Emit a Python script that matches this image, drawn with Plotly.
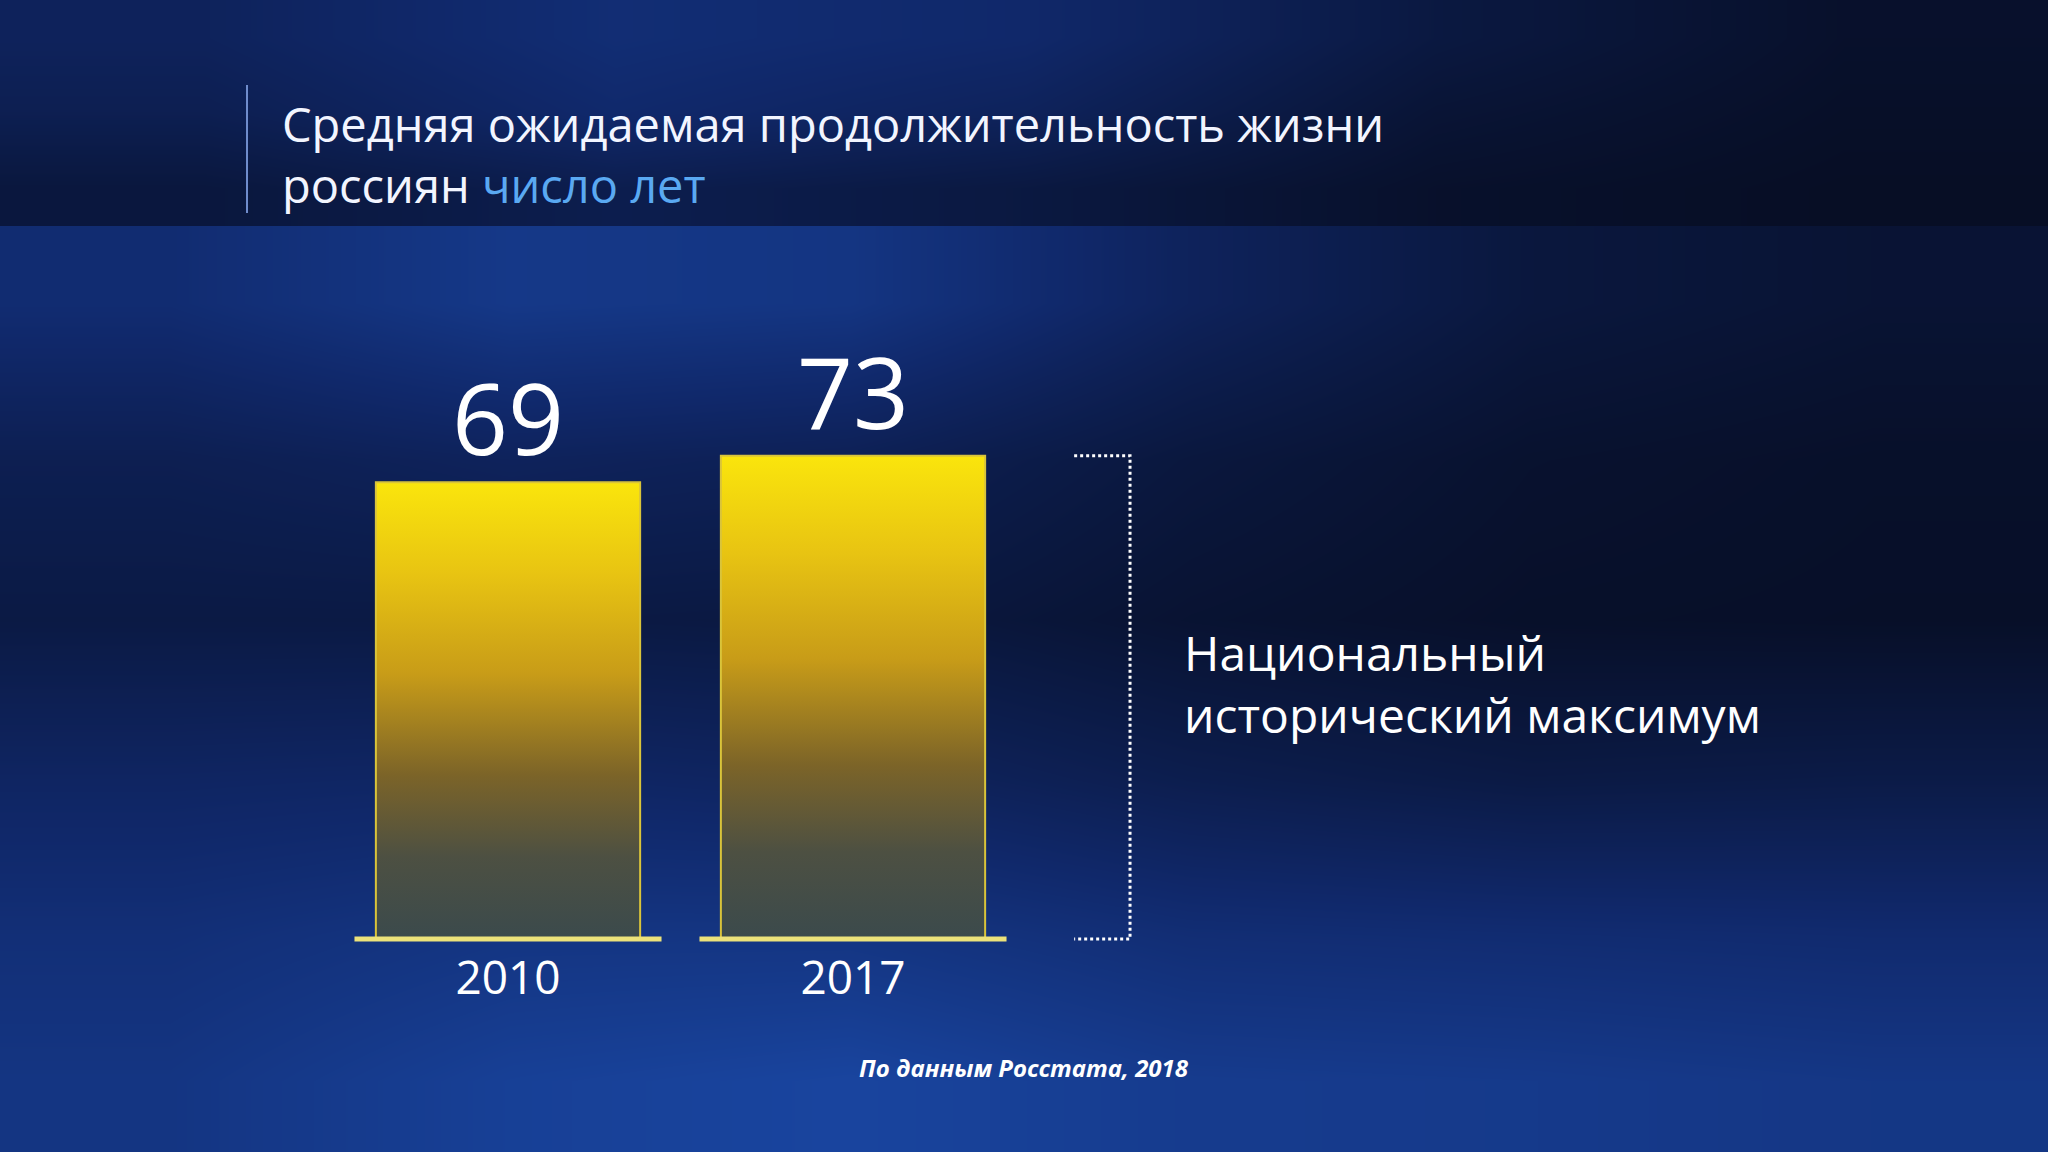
import plotly.graph_objects as go

# data
years = ["2010", "2017"]
life_expectancy = [69, 73]

title_line1 = "Средняя ожидаемая продолжительность жизни"
title_line2 = "россиян"
title_unit = "число лет"
bracket_note = "Национальный<br>исторический максимум"
source_note = "По данным Росстата, 2018"

W, H = 2048, 1152
FONT = "Open Sans"

# background brightness grids (decor only), edges in pixels
top_x = [0, 410, 820, 1230, 1640, 2048]
top_y = [0, 75, 150, 226]
top_z = [[0.36, 0.52, 0.45, 0.20, 0.07],
         [0.30, 0.46, 0.36, 0.13, 0.05],
         [0.18, 0.28, 0.20, 0.07, 0.03]]

low_x = [0, 340, 680, 1020, 1360, 1700, 2048]
low_y = [226, 380, 540, 700, 860, 1010, 1152]
low_z = [[0.50, 0.66, 0.62, 0.36, 0.18, 0.12],
         [0.30, 0.36, 0.32, 0.18, 0.09, 0.06],
         [0.22, 0.22, 0.20, 0.11, 0.06, 0.05],
         [0.40, 0.42, 0.38, 0.28, 0.22, 0.24],
         [0.54, 0.62, 0.62, 0.52, 0.50, 0.48],
         [0.62, 0.76, 0.82, 0.70, 0.68, 0.64]]

bg_scale = [[0, "#060c20"], [0.45, "#10286a"], [1, "#1d52b8"]]

fig = go.Figure()

for xs, ys, zs in [(top_x, top_y, top_z), (low_x, low_y, low_z)]:
    fig.add_trace(go.Heatmap(x=xs, y=ys, z=zs, zmin=0, zmax=1, zsmooth="best",
                             colorscale=bg_scale, showscale=False, hoverinfo="skip",
                             xaxis="x", yaxis="y"))

# bars as filled polygons so they can carry a vertical gradient
bar_half = 0.383
base_half = 0.445
bar_scale = [[0, "#3b4a4c"], [0.18, "#4d5042"], [0.36, "#7c6428"],
             [0.58, "#c89c18"], [0.8, "#e8c412"], [1, "#fae50c"]]

for i, (yr, v) in enumerate(zip(years, life_expectancy)):
    fig.add_trace(go.Scatter(
        x=[i - bar_half, i - bar_half, i + bar_half, i + bar_half, i - bar_half],
        y=[0, v, v, 0, 0],
        mode="lines", fill="toself",
        fillgradient=dict(type="vertical", colorscale=bar_scale, start=0, stop=v),
        line=dict(color="#d9c43a", width=2),
        hoverinfo="skip", xaxis="x2", yaxis="y2"))
    fig.add_trace(go.Scatter(
        x=[i - base_half, i + base_half], y=[0, 0], mode="lines",
        line=dict(color="#ece27a", width=5),
        hoverinfo="skip", xaxis="x2", yaxis="y2"))
    fig.add_annotation(x=i, y=v, xref="x2", yref="y2", text=str(v),
                       showarrow=False, yanchor="bottom", yshift=-4,
                       font=dict(family=FONT, size=98, color="white"))

# dotted bracket marking the maximum
top = max(life_expectancy)
bx0, bx1 = 1.641, 1.803
fig.add_trace(go.Scatter(
    x=[bx0, bx1, bx1, bx0], y=[top, top, 0, 0], mode="lines",
    line=dict(color="white", width=3, dash="dot"),
    hoverinfo="skip", xaxis="x2", yaxis="y2"))

fig.add_annotation(x=1182 / W, y=1 - 683 / H, xref="paper", yref="paper",
                   text=bracket_note, showarrow=False, xanchor="left", yanchor="middle",
                   align="left", font=dict(family=FONT, size=48, color="white"))

# title block
fig.add_annotation(x=280 / W, y=1 - 154 / H, xref="paper", yref="paper",
                   text=f"{title_line1}<br>{title_line2} "
                        f"<span style='color:#5aa9f2'>{title_unit}</span>",
                   showarrow=False, xanchor="left", yanchor="middle", align="left",
                   font=dict(family=FONT, size=47, color="#f2f5ff"))
fig.add_shape(type="line", xref="paper", yref="paper",
              x0=247 / W, x1=247 / W, y0=1 - 85 / H, y1=1 - 213 / H,
              line=dict(color="#6f8ccc", width=2))

fig.add_annotation(x=1024 / W, y=1 - 1067 / H, xref="paper", yref="paper",
                   text=f"<b><i>{source_note}</i></b>", showarrow=False,
                   xanchor="center", yanchor="middle",
                   font=dict(family=FONT, size=24, color="white"))

# axis scales: bar centres at 508 and 853 px, baseline at 939 px
px_per_cat = 345
px_per_year = 6.62
x_left = -508 / px_per_cat
y_bottom = -(H - 939) / px_per_year

fig.update_layout(
    width=W, height=H,
    margin=dict(l=0, r=0, t=0, b=0),
    paper_bgcolor="#0a1536", plot_bgcolor="rgba(0,0,0,0)",
    showlegend=False,
    xaxis=dict(range=[0, W], domain=[0, 1], visible=False, fixedrange=True),
    yaxis=dict(range=[H, 0], domain=[0, 1], visible=False, fixedrange=True),
    xaxis2=dict(overlaying="x", range=[x_left, x_left + W / px_per_cat],
                anchor="free", position=1 - 939 / H,
                tickvals=list(range(len(years))), ticktext=years,
                tickfont=dict(family=FONT, size=46, color="white"),
                showgrid=False, zeroline=False, showline=False, ticks="",
                ticklabelstandoff=8, fixedrange=True),
    yaxis2=dict(overlaying="y", range=[y_bottom, y_bottom + H / px_per_year],
                visible=False, fixedrange=True),
)

# drop the default page margin so the figure fills the window
fig.write_html("out.html", config={"displayModeBar": False},
               post_script="document.body.style.margin='0';"
                           "document.body.style.overflow='hidden';")
